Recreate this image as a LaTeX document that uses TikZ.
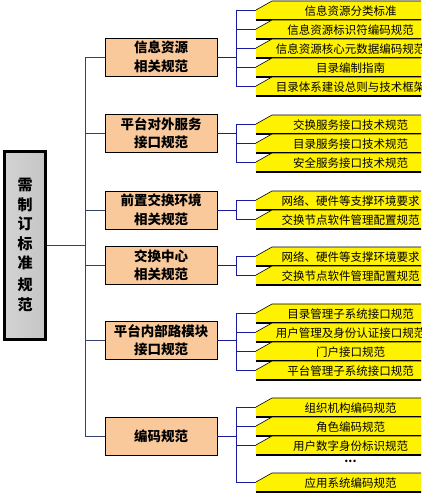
\documentclass[tikz,border=0pt]{standalone}
\usepackage{fontspec}
\setmainfont{Noto Sans CJK SC}
\definecolor{orangefill}{HTML}{F9C99B}
\definecolor{grpblue}{HTML}{1A1AA0}
\definecolor{mainblue}{HTML}{34406E}
\newcommand\yellowbox[3]{%
  \fill[yellow] (272,#2) -- (450,#2) -- (450,#2+19) -- (256,#2+19) -- (256,#2+9) -- cycle;
  \draw[ytop] (450,#2) -- (272,#2) -- (256,#2+9);
  \draw[ybot] (256,#2+19) -- (450,#2+19);
  \node[ytext] (#1) at (350.5,#2+10) {#3};
  \coordinate (#1c) at (256,#2+9);
}
\begin{document}
\begin{tikzpicture}[x=1pt,y=-1pt,
  obox/.style={draw=black, line width=0.6pt, fill=orangefill, minimum width=112pt, minimum height=38pt,
    inner sep=0pt, align=center, font=\fontsize{13.5}{18.5}\selectfont\bfseries},
  rootbox/.style={draw=black, line width=2.5pt, fill=white, minimum width=42pt, minimum height=189pt, inner sep=0pt},
  rootinner/.style={draw=black, line width=1.3pt, left color=gray!35, middle color=white, right color=gray!45},
  roottext/.style={align=center, inner sep=0pt, font=\fontsize{15}{19.5}\selectfont\bfseries},
  ytop/.style={draw=black, line width=0.6pt},
  ybot/.style={draw=black, line width=1.1pt},
  ytext/.style={inner sep=0pt, font=\fontsize{11.5}{12}\selectfont},
  grp/.style={draw=grpblue, line width=0.8pt},
  mainl/.style={draw=mainblue, line width=0.7pt}]
\clip (0,0) rectangle (421,495);
\fill[white] (0,0) rectangle (421,495);

% root
\node[rootbox] (root) at (25,245.5) {};
\draw[rootinner] ([shift={(3,3)}]root.north west) rectangle ([shift={(-3,-3)}]root.south east);
\node[roottext] (roottxt) at (25,245) {需\\制\\订\\标\\准\\[2.5pt]规\\范};

% orange boxes
\node[obox] (o1) at (161,57) {信息资源\\相关规范};
\node[obox] (o2) at (161,133) {平台对外服务\\接口规范};
\node[obox] (o3) at (161,210) {前置交换环境\\相关规范};
\node[obox] (o4) at (161,265.5) {交换中心\\相关规范};
\node[obox] (o5) at (161,340) {平台内部路模块\\接口规范};
\node[obox] (o6) at (161,436.5) {编码规范};

\foreach \o in {o1,o2,o3,o4,o5,o6}
  \draw[mainl] (root.east) -- ++(38,0) |- (\o.west);

% group 1
\yellowbox{g11}{1}{信息资源分类标准}
\yellowbox{g12}{20}{信息资源标识符编码规范}
\yellowbox{g13}{39}{信息资源核心元数据编码规范}
\yellowbox{g14}{58}{目录编制指南}
\yellowbox{g15}{77}{目录体系建设总则与技术框架}
\foreach \g in {g11,g12,g13,g14,g15}
  \draw[grp] (o1.east) -- ++(19,0) |- (\g c);

% group 2
\yellowbox{g21}{115}{交换服务接口技术规范}
\yellowbox{g22}{134}{目录服务接口技术规范}
\yellowbox{g23}{153}{安全服务接口技术规范}
\foreach \g in {g21,g22,g23}
  \draw[grp] (o2.east) -- ++(19,0) |- (\g c);

% group 3
\yellowbox{g31}{191}{网络、硬件等支撑环境要求}
\yellowbox{g32}{210}{交换节点软件管理配置规范}
\foreach \g in {g31,g32}
  \draw[grp] (o3.east) -- ++(19,0) |- (\g c);

% group 4
\yellowbox{g41}{247}{网络、硬件等支撑环境要求}
\yellowbox{g42}{266}{交换节点软件管理配置规范}
\foreach \g in {g41,g42}
  \draw[grp] (o4.east) -- ++(19,0) |- (\g c);

% group 5
\yellowbox{g51}{304}{目录管理子系统接口规范}
\yellowbox{g52}{323}{用户管理及身份认证接口规范}
\yellowbox{g53}{342}{门户接口规范}
\yellowbox{g54}{361}{平台管理子系统接口规范}
\foreach \g in {g51,g52,g53,g54}
  \draw[grp] (o5.east) -- ++(19,0) |- (\g c);

% group 6
\yellowbox{g61}{398}{组织机构编码规范}
\yellowbox{g62}{417}{角色编码规范}
\yellowbox{g63}{436}{用户数字身份标识规范}
\node[ytext, font=\fontsize{11.5}{12}\selectfont\bfseries] (g6d) at (350.5,461) {...};
\yellowbox{g64}{473}{应用系统编码规范}
\foreach \g in {g61,g62,g63,g64}
  \draw[grp] (o6.east) -- ++(19,0) |- (\g c);
\end{tikzpicture}
\end{document}
